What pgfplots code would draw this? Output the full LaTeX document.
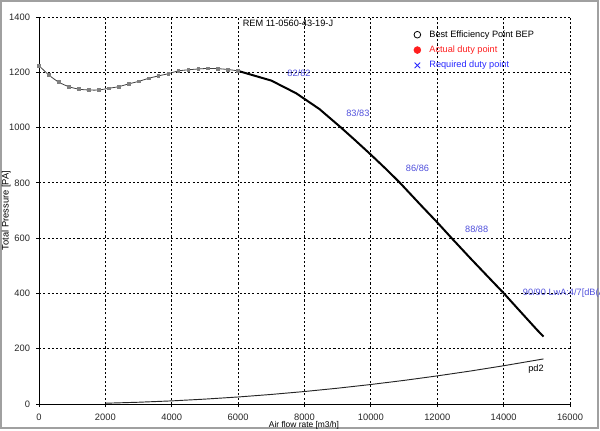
\documentclass[border=0pt]{standalone}
\usepackage{fontspec}
\setmainfont{Liberation Sans}
\usepackage{pgfplots}
\pgfplotsset{compat=1.18}
\definecolor{lblblue}{RGB}{80,80,220}
\definecolor{reqblue}{RGB}{40,40,255}
\definecolor{actred}{RGB}{255,30,30}
\begin{document}
\begin{tikzpicture}
\path[use as bounding box] (0,0) rectangle (450pt,322.5pt);
\clip (0,0) rectangle (450pt,322.5pt);
\draw[color={rgb,255:red,160;green,160;blue,160}, line width=1pt] (0.75pt,1.5pt) rectangle (448.5pt,321.75pt);
\begin{axis}[
  at={(29.25pt,19.5pt)}, anchor=south west,
  scale only axis, width=398.25pt, height=290.25pt,
  xmin=0, xmax=16000, ymin=0, ymax=1400,
  xtick={0,2000,...,16000}, ytick={0,200,...,1400},
  axis x line*=bottom, axis y line*=left,
  axis line style={-, black, line width=0.75pt},
  tick style={black, line width=0.6pt},
  major tick length=2.25pt,
  tick align=outside,
  grid=major,
  major grid style={black, line width=0.7pt, dash pattern=on 1.6pt off 1.6pt},
  scaled ticks=false,
  /pgf/number format/.cd, set thousands separator={}, assume math mode=true, /pgfplots/.cd,
  tick label style={font=\fontsize{7}{8}\selectfont, color=black!85},
  xticklabel style={yshift=-1.5pt},
  yticklabel style={xshift=-1pt},
  clip=false,
  xlabel={Air flow rate [m3/h]},
  ylabel={Total Pressure [PA]},
  every axis x label/.style={at={(axis description cs:0.499,-0.054)}, anchor=center, font=\fontsize{6.3}{7}\selectfont},
  every axis y label/.style={at={(axis description cs:-0.0616,0.5)}, rotate=90, anchor=center, font=\fontsize{7}{8}\selectfont},
  legend image code/.code={\path (-4pt,-3.25pt) (4pt,3.25pt); \draw[#1] plot coordinates {(0pt,0pt)};},
  legend style={at={(axis cs:11220,1354)}, anchor=north west, draw=none, fill=none, inner sep=0pt,
     column sep=4.7pt, row sep=4.5pt,
     nodes={inner sep=0pt, text height=5pt, text depth=1.5pt, font=\fontsize{6.9}{8}\selectfont}},
  legend cell align=left,
]
% legend entries
\addlegendimage{only marks, mark=o, mark size=2.5pt, black, line width=0.6pt}
\addlegendentry{Best Efficiency Point BEP}
\addlegendimage{only marks, mark=*, mark size=2.6pt, actred, draw=actred, fill=actred}
\addlegendentry[text=actred]{Actual duty point}
\addlegendimage{only marks, mark=x, mark size=3pt, reqblue, line width=0.6pt}
\addlegendentry[text=reqblue]{Required duty point}

% unstable region (grey with markers)
\addplot[color=black!75, line width=0.6pt, smooth, mark=square*, mark size=1.05pt,
  mark options={fill=black!50, draw=black!50}, forget plot] coordinates {
(0,1224) (300,1190) (600,1164) (900,1148) (1200,1139) (1500,1136) (1800,1136)
(2100,1142) (2400,1148) (2700,1158) (3000,1167) (3300,1178) (3600,1187)
(3900,1195) (4200,1205) (4500,1209) (4800,1212) (5100,1214) (5400,1213)
(5700,1210) (6000,1205)
};
% fan curve
\addplot[black, line width=1.5pt, forget plot] coordinates {
(6000,1205) (7000,1170) (7750,1124) (8450,1067) (9100,1000) (9500,957)
(10000,902) (10500,845) (10877,800) (11500,720) (12000,657) (12434,600)
(13000,527) (13500,464) (14010,400) (14500,335) (15000,269) (15200,244)
};
% pd2
\addplot[black!85, line width=0.7pt, forget plot] coordinates {
(2000,2.8) (3000,6.4) (4000,11.3) (5000,17.7) (6000,25.4) (7000,34.6)
(8000,45.2) (9000,57.2) (10000,70.6) (11000,85.4) (12000,101.7)
(13000,119.3) (14000,138.4) (15000,158.9) (15200,163.1)
};

\node[font=\fontsize{6.9}{8}\selectfont, inner sep=0pt] at (axis cs:7502,1376) {REM 11-0560-43-19-J};
\node[font=\fontsize{6.9}{8}\selectfont, inner sep=0pt, text=lblblue] at (axis cs:7834,1198) {82/82};
\node[font=\fontsize{6.9}{8}\selectfont, inner sep=0pt, text=lblblue] at (axis cs:9608,1053) {83/83};
\node[font=\fontsize{6.9}{8}\selectfont, inner sep=0pt, text=lblblue] at (axis cs:11404,852) {86/86};
\node[font=\fontsize{6.9}{8}\selectfont, inner sep=0pt, text=lblblue] at (axis cs:13188,632) {88/88};
\node[font=\fontsize{6.9}{8}\selectfont, inner sep=0pt, text=lblblue, anchor=west] at (axis cs:14574,402) {90/90 LwA:4/7[dB(A)]};
\node[font=\fontsize{6.9}{8}\selectfont, inner sep=0pt] at (axis cs:14974,127) {pd2};
\end{axis}
\end{tikzpicture}
\end{document}
